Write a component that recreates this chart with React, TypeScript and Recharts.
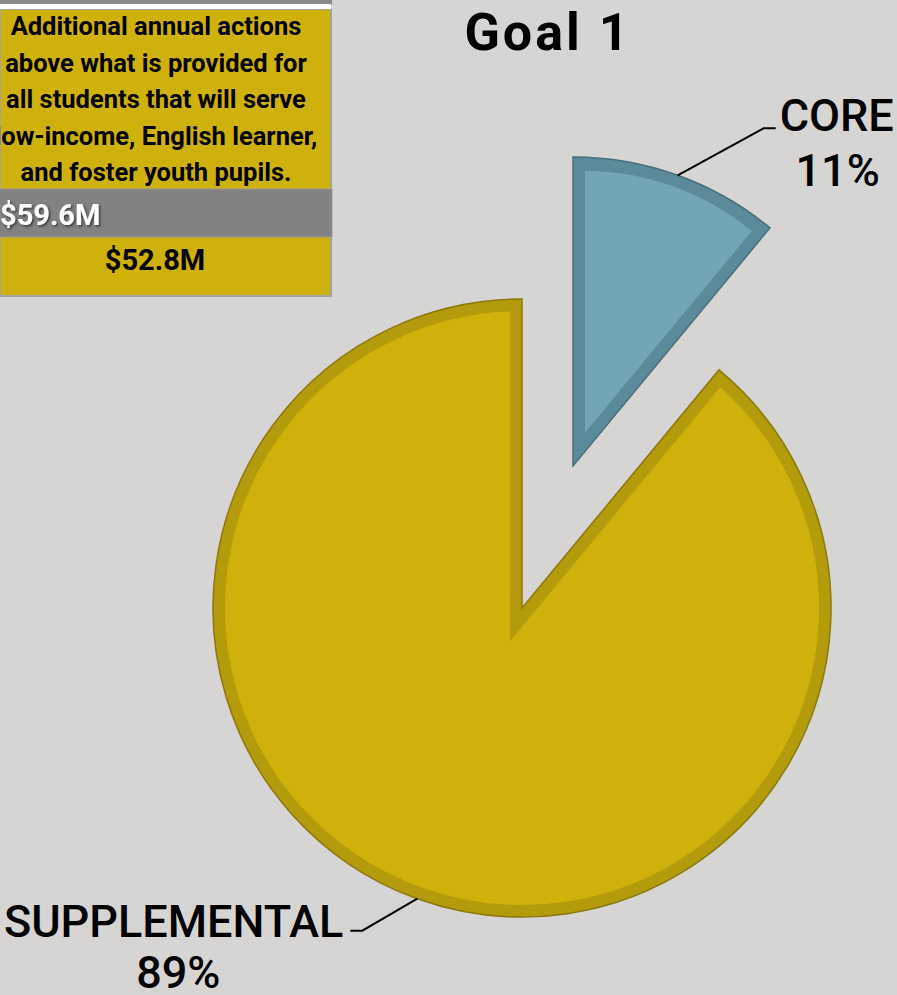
import React from "react";
import { PieChart, Pie, Cell } from "recharts";

const categories = ["CORE", "SUPPLEMENTAL"];
const shares = [11, 89];
const titleText = "Goal 1";
const boxLines = [
  "Additional annual actions",
  "above what is provided for",
  "all students that will serve",
  "low-income, English learner,",
  "and foster youth pupils.",
];
const totals = ["$59.6M", "$52.8M"];

const data = categories.map((name, i) => ({ name, value: shares[i] }));

const BG = "#d6d5d3";
const SUPP_FILL = "#cfb10b";
const SUPP_BAND = "#b49b0c";
const SUPP_LINE = "#8a780c";
const CORE_FILL = "#72a6b6";
const CORE_BAND = "#5b8b9b";
const CORE_LINE = "#46707f";

const RAD = Math.PI / 180;
const R = 309;
const SUPP_C = { x: 522, y: 608 };
const CORE_C = { x: 573, y: 466 };
const BEVEL = 12;
const coreHalf = (shares[0] / 100) * 180;
const coreMid = 90 - coreHalf;
const shift = BEVEL / Math.sin(coreHalf * RAD);
const CORE_IN = {
  x: CORE_C.x + shift * Math.cos(coreMid * RAD),
  y: CORE_C.y - shift * Math.sin(coreMid * RAD),
};
const coreInnerR = R - BEVEL - shift;

const FONT = "Roboto, 'Liberation Sans', sans-serif";

const renderLabel = (props: any) => {
  const { cx, cy, midAngle, outerRadius, index, percent } = props;
  const p0x = cx + outerRadius * Math.cos(-midAngle * RAD);
  const p0y = cy + outerRadius * Math.sin(-midAngle * RAD);
  const pct = `${Math.round(percent * 100)}%`;
  if (index === 0) {
    const ex = p0x + 86;
    const ey = p0y - 47;
    return (
      <g>
        <polyline points={`${p0x},${p0y} ${ex},${ey} ${ex + 12},${ey}`} fill="none" stroke="#000" strokeWidth={2} />
        <text x={ex + 16} y={ey + 3} fontFamily={FONT} fontWeight={500} fontSize={45} fill="#000" textAnchor="start">
          {categories[index]}
        </text>
        <text x={ex + 74} y={ey + 58} fontFamily={FONT} fontWeight={500} fontSize={45} fill="#000" textAnchor="middle">
          {pct}
        </text>
      </g>
    );
  }
  const ex = p0x - 55;
  const ey = p0y + 32;
  return (
    <g>
      <polyline points={`${p0x},${p0y} ${ex},${ey} ${ex - 12},${ey}`} fill="none" stroke="#000" strokeWidth={2} />
      <text x={ex - 19} y={ey + 6} fontFamily={FONT} fontWeight={500} fontSize={45} fill="#000" textAnchor="end">
        {categories[index]}
      </text>
      <text x={ex - 184} y={ey + 57} fontFamily={FONT} fontWeight={500} fontSize={45} fill="#000" textAnchor="middle">
        {pct}
      </text>
    </g>
  );
};

const common = {
  data,
  dataKey: "value",
  nameKey: "name",
  startAngle: 90,
  endAngle: -270,
  isAnimationActive: false,
  labelLine: false,
};

export default function App() {
  return (
    <div style={{ position: "absolute", left: 0, top: 0, width: 897, height: 995, background: BG, overflow: "hidden" }}>
      <PieChart width={897} height={995} margin={{ top: 0, right: 0, bottom: 0, left: 0 }}>
        {/* supplemental outer band */}
        <Pie {...common} cx={SUPP_C.x} cy={SUPP_C.y} outerRadius={R} label={false}>
          <Cell fill="none" stroke="none" />
          <Cell fill={SUPP_BAND} stroke="none" />
        </Pie>
        {/* supplemental inner face: stroke gives inner bevel band */}
        <Pie {...common} cx={SUPP_C.x} cy={SUPP_C.y} outerRadius={R} label={false}>
          <Cell fill="none" stroke="none" />
          <Cell fill={SUPP_FILL} stroke={SUPP_BAND} strokeWidth={BEVEL * 2} strokeLinejoin="miter" />
        </Pie>
        {/* cleanup of the outer half of the stroke */}
        <Pie {...common} cx={SUPP_C.x} cy={SUPP_C.y} innerRadius={R} outerRadius={R + 20} label={false}>
          <Cell fill={BG} stroke="none" />
          <Cell fill={BG} stroke="none" />
        </Pie>
        <Pie {...common} cx={SUPP_C.x} cy={SUPP_C.y} outerRadius={R + 20} label={false}>
          <Cell fill={BG} stroke="none" />
          <Cell fill="none" stroke="none" />
        </Pie>
        {/* supplemental outline + label */}
        <Pie {...common} cx={SUPP_C.x} cy={SUPP_C.y} outerRadius={R} label={(p: any) => (p.index === 1 ? renderLabel(p) : null)}>
          <Cell fill="none" stroke="none" />
          <Cell fill="none" stroke={SUPP_LINE} strokeWidth={1.5} />
        </Pie>
        {/* core outer band */}
        <Pie {...common} cx={CORE_C.x} cy={CORE_C.y} outerRadius={R} label={(p: any) => (p.index === 0 ? renderLabel(p) : null)}>
          <Cell fill={CORE_BAND} stroke={CORE_LINE} strokeWidth={1.5} />
          <Cell fill="none" stroke="none" />
        </Pie>
        {/* core inner face */}
        <Pie {...common} cx={CORE_IN.x} cy={CORE_IN.y} outerRadius={coreInnerR} label={false}>
          <Cell fill={CORE_FILL} stroke="none" />
          <Cell fill="none" stroke="none" />
        </Pie>
      </PieChart>
      <svg width={897} height={995} style={{ position: "absolute", left: 0, top: 0, pointerEvents: "none" }}>
        <defs>
          <filter id="tshadow" x="-10%" y="-20%" width="130%" height="150%">
            <feDropShadow dx="1.5" dy="1.5" stdDeviation="0.8" floodColor="#333" floodOpacity="0.9" />
          </filter>
        </defs>
        <text x={548} y={50} textAnchor="middle" fontFamily={FONT} fontWeight="bold" fontSize={52} letterSpacing={3} fill="#000">
          {titleText}
        </text>
        {/* info box */}
        <rect x={0} y={0} width={332} height={5} fill="#8a8a8a" />
        <rect x={0} y={9} width={331} height={287} fill={SUPP_FILL} stroke="#a3a3a3" strokeWidth={2} />
        <rect x={0} y={4} width={331} height={5} fill="#ffffff" />
        {boxLines.map((t, i) => (
          <text key={i} x={156} y={35 + i * 36.6} textAnchor="middle" fontFamily={FONT} fontWeight="bold" fontSize={25.5} fill="#000">
            {t}
          </text>
        ))}
        <rect x={-2} y={189} width={334} height={48} fill="#828282" stroke="#9a9a9a" strokeWidth={1} />
        <text x={0} y={225} fontFamily={FONT} fontWeight="bold" fontSize={29} fill="#ffffff" textAnchor="start" filter="url(#tshadow)">
          {totals[0]}
        </text>
        <text x={155} y={270} fontFamily={FONT} fontWeight="bold" fontSize={29} fill="#000" textAnchor="middle">
          {totals[1]}
        </text>
      </svg>
    </div>
  );
}
